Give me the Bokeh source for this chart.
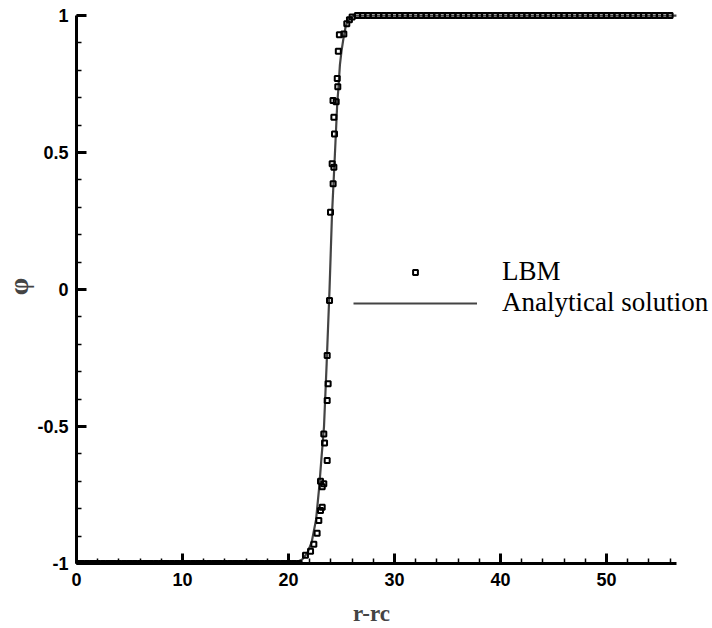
from bokeh.plotting import figure
from bokeh.models import Legend, LegendItem, SingleIntervalTicker, Range1d
from bokeh.embed import file_html
from bokeh.resources import INLINE

# ---- data ----
# Analytical solution (phi vs r-rc)
ana_x = [0.0, 20.5, 21.3, 21.8, 22.2, 22.6, 22.9, 23.1, 23.35, 23.6, 23.87,
         24.1, 24.35, 24.6, 24.7, 24.85, 25.0, 25.2, 25.38, 25.55, 25.7, 26.2, 56.6]
ana_y = [-1.0, -1.0, -0.985, -0.96, -0.92, -0.84, -0.72, -0.62, -0.5, -0.27, 0.0,
         0.27, 0.47, 0.68, 0.73, 0.82, 0.87, 0.92, 0.957, 0.978, 0.99, 1.0, 1.0]

# LBM points
lbm_x = [0.0, 0.5, 1.0, 1.5, 2.0, 2.5, 3.0, 3.5, 4.0, 4.5, 5.0, 5.5, 6.0, 6.5,
         7.0, 7.5, 8.0, 8.5, 9.0, 9.5, 10.0, 10.5, 11.0, 11.5, 12.0, 12.5, 13.0,
         13.5, 14.0, 14.5, 15.0, 15.5, 16.0, 16.5, 17.0, 17.5, 18.0, 18.5, 19.0,
         19.5, 20.0, 20.5, 21.0,
         21.6, 22.08, 22.39, 22.7, 22.86, 23.02, 23.02, 23.18, 23.18, 23.33,
         23.33, 23.4, 23.65, 23.65, 23.74, 23.65, 23.87, 23.96, 24.12, 24.21,
         24.28, 24.28, 24.34, 24.2, 24.5, 24.6, 24.65, 24.7, 24.8, 25.22, 25.5,
         25.75, 26.0,
         26.5, 27.0, 27.5, 28.0, 28.5, 29.0, 29.5, 30.0, 30.5, 31.0, 31.5, 32.0,
         32.5, 33.0, 33.5, 34.0, 34.5, 35.0, 35.5, 36.0, 36.5, 37.0, 37.5, 38.0,
         38.5, 39.0, 39.5, 40.0, 40.5, 41.0, 41.5, 42.0, 42.5, 43.0, 43.5, 44.0,
         44.5, 45.0, 45.5, 46.0, 46.5, 47.0, 47.5, 48.0, 48.5, 49.0, 49.5, 50.0,
         50.5, 51.0, 51.5, 52.0, 52.5, 53.0, 53.5, 54.0, 54.5, 55.0, 55.5, 56.0]
lbm_y = [-1.0] * 43 + [
         -0.97, -0.955, -0.93, -0.89, -0.843, -0.807, -0.70, -0.795, -0.72, -0.709,
         -0.527, -0.56, -0.624, -0.405, -0.344, -0.241, -0.04, 0.282, 0.459, 0.386,
         0.446, 0.629, 0.568, 0.69, 0.685, 0.77, 0.74, 0.87, 0.93, 0.933, 0.97,
         0.985, 0.995] + [1.0] * 60

# axis ticks
x_ticks = [0, 10, 20, 30, 40, 50]
x_tick_labels = ["0", "10", "20", "30", "40", "50"]
y_ticks = [-1.0, -0.5, 0.0, 0.5, 1.0]
y_tick_labels = ["-1", "-0.5", "0", "0.5", "1"]

p = figure(frame_width=636, frame_height=554,
           min_border_left=76, min_border_right=0,
           min_border_top=9, min_border_bottom=65,
           x_range=Range1d(0, 60.0), y_range=Range1d(-1.0, 1.022),
           output_backend="svg", toolbar_location=None)
p.grid.visible = False
p.outline_line_color = None
p.background_fill_color = "white"
p.border_fill_color = "white"

line_r = p.line(ana_x, ana_y, line_color="#444444", line_width=2.2)
pts_r = p.scatter(lbm_x, lbm_y, marker="square", size=5, line_color="black",
                  line_width=2.0, fill_color=None)

for ax in (p.xaxis[0], p.yaxis[0]):
    ax.axis_line_width = 3
    ax.axis_line_color = "black"
    ax.major_tick_in = 10
    ax.major_tick_out = 0
    ax.minor_tick_in = 5
    ax.minor_tick_out = 0
    ax.major_tick_line_width = 3
    ax.minor_tick_line_width = 1.5
    ax.major_label_text_font = "Liberation Sans"
    ax.major_label_text_font_style = "bold"
    ax.major_label_text_color = "black"
    ax.major_label_text_font_size = "18px"

p.xaxis.ticker = SingleIntervalTicker(interval=10, num_minor_ticks=5)
p.yaxis.ticker = SingleIntervalTicker(interval=0.5, num_minor_ticks=5)
p.xaxis.bounds = (0, 56.6)
p.yaxis.bounds = (-1, 1)
p.xaxis.major_label_overrides = dict(zip(x_ticks, x_tick_labels))
p.yaxis.major_label_overrides = dict(zip(y_ticks, y_tick_labels))
p.xaxis.major_label_standoff = 9
p.yaxis.major_label_standoff = 8

p.xaxis.axis_label = "r-rc\u2003\u2003"
p.xaxis.axis_label_text_font = "Liberation Serif"
p.xaxis.axis_label_text_font_style = "bold"
p.xaxis.axis_label_text_font_size = "23px"
p.xaxis.axis_label_standoff = 12
p.yaxis.axis_label = "φ"
p.yaxis.axis_label_text_font = "Liberation Serif"
p.yaxis.axis_label_text_font_style = "bold"
p.yaxis.axis_label_text_font_size = "28px"
p.yaxis.axis_label_standoff = 0

legend = Legend(items=[LegendItem(label="LBM", renderers=[pts_r]),
                       LegendItem(label="Analytical solution", renderers=[line_r])],
                location=(277, 245), orientation="vertical",
                glyph_width=124, glyph_height=12, label_height=31,
                spacing=0, label_standoff=25, padding=0, margin=0,
                border_line_color=None, background_fill_alpha=0,
                label_text_font="Liberation Serif", label_text_font_size="27px",
                label_text_color="black")
p.add_layout(legend, "center")

open("out.html", "w").write(file_html(p, INLINE))
